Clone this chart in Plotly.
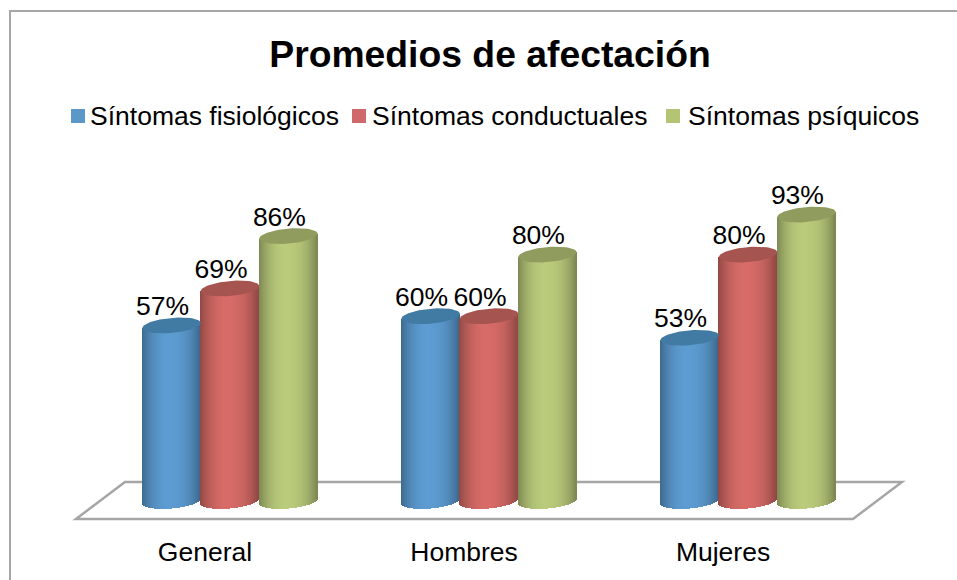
import numpy as np
import plotly.graph_objects as go

categories = ["General", "Hombres", "Mujeres"]
series_names = ["Síntomas fisiológicos", "Síntomas conductuales", "Síntomas psíquicos"]
fisiologicos = [57, 60, 53]
conductuales = [69, 60, 80]
psiquicos = [86, 80, 93]
series_values = [fisiologicos, conductuales, psiquicos]

base_colors = [(93, 157, 211), (216, 108, 104), (187, 204, 124)]
legend_colors = ["#5b97c8", "#d0696a", "#b3c474"]
top_colors = ["#417aa3", "#a5544f", "#8f9c5e"]
legend_swatch_px = [71, 352, 666]
legend_text_px = [90, 372, 688]

W, H = 957, 580
FONT = "Liberation Sans"
PX_X = 259.0        # pixels per category
PX_Y = 3.08         # pixels per percentage point
X0_PX = 205.0       # pixel of first category tick
ZERO_PX = 501.0     # pixel of value 0 (centre of cylinder foot)
AXIS_PX = 527.0     # pixel of x axis line
DEPTH = 25.0        # cylinders sit behind the tick positions
CYL_W = 58.4
R = CYL_W / 2
ELL_B = 7.5
ELL_K = 2.5

def shade(rgb, t):
    f = 1 - 0.30 * abs(t) ** 2.6
    f *= 1 - 0.05 * abs(t + 0.1)
    return "rgb(%d,%d,%d)" % tuple(int(c * f) for c in rgb)

fig = go.Figure()
u = (np.arange(int(CYL_W)) + 0.5) / int(CYL_W) * 2 - 1
for j, (name, values) in enumerate(zip(series_names, series_values)):
    xs, heights, bases, colors = [], [], [], []
    for i, v in enumerate(values):
        cx = i + (DEPTH + (j - 1) * CYL_W) / PX_X
        foot = -(ELL_B * np.sqrt(1 - u ** 2) - ELL_K * u) / PX_Y
        head = v + ELL_K * u / PX_Y
        xs.extend(cx + u * R / PX_X)
        bases.extend(foot)
        heights.extend(head - foot)
        colors.extend(shade(base_colors[j], t) for t in u)
    fig.add_trace(go.Bar(x=xs, y=heights, base=bases, width=1.4 / PX_X, name=name,
                         marker=dict(color=colors, line=dict(width=0)),
                         showlegend=False, hoverinfo="skip"))
th = np.linspace(0, 2 * np.pi, 80)
for j, values in enumerate(series_values):
    for i, v in enumerate(values):
        cx = i + (DEPTH + (j - 1) * CYL_W) / PX_X
        ex = cx + R * np.cos(th) / PX_X
        ey = v - (ELL_B * np.sin(th) - ELL_K * np.cos(th)) / PX_Y
        fig.add_trace(go.Scatter(x=ex, y=ey, mode="lines", fill="toself",
                                 fillcolor=top_colors[j], line=dict(width=0),
                                 showlegend=False, hoverinfo="skip"))
for j, values in enumerate(series_values):
    fig.add_trace(go.Scatter(
        x=[i + (DEPTH + (j - 1) * CYL_W - 9) / PX_X for i in range(3)],
        y=[v + 17 / PX_Y for v in values],
        mode="text", text=[f"{v}%" for v in values],
        textposition="middle center",
        textfont=dict(family=FONT, size=26.5, color="#000000"),
        showlegend=False, hoverinfo="skip"))

# paper coordinates refer to the plot area, which ends at the x axis
def px(x): return x / W
def py(y): return 1 - y / AXIS_PX
def path(pts):
    return "M " + " L ".join(f"{px(a):.4f} {py(b):.4f}" for a, b in pts) + " Z"

floor = [(76, 519), (853, 519), (902, 482), (125, 482)]
shapes = [
    dict(type="rect", xref="paper", yref="paper", x0=px(10), x1=px(975), y0=py(11), y1=py(600),
         line=dict(color="#a6a6a6", width=2), layer="below"),
    dict(type="path", xref="paper", yref="paper", path=path(floor),
         line=dict(color="#a6a6a6", width=2.5), fillcolor="#ffffff", layer="below"),
]
annotations = []
for j, name in enumerate(series_names):
    sx = legend_swatch_px[j]
    shapes.append(dict(type="rect", xref="paper", yref="paper", x0=px(sx), x1=px(sx + 14),
                       y0=py(109), y1=py(123), fillcolor=legend_colors[j], line=dict(width=0)))
    annotations.append(dict(xref="paper", yref="paper", x=px(legend_text_px[j]), y=py(116),
                            text=name, showarrow=False, xanchor="left", yanchor="middle",
                            borderpad=0, borderwidth=0,
                            font=dict(family=FONT, size=26.5, color="#000000")))

fig.update_layout(
    width=W, height=H, autosize=False,
    margin=dict(l=0, r=0, t=0, b=H - AXIS_PX, pad=0),
    paper_bgcolor="#ffffff", plot_bgcolor="rgba(0,0,0,0)",
    barmode="overlay", bargap=0, showlegend=False,
    title=dict(text="<b>Promedios de afectación</b>", x=490 / W, xanchor="center",
               y=1 - 54 / H, yanchor="middle",
               font=dict(family=FONT, size=37.3, color="#000000")),
    shapes=shapes, annotations=annotations,
    xaxis=dict(range=[-X0_PX / PX_X, (W - X0_PX) / PX_X], tickvals=[0, 1, 2], ticktext=categories,
               showgrid=False, zeroline=False, showline=False,
               ticks="outside", ticklen=1, tickcolor="rgba(0,0,0,0)",
               tickfont=dict(family=FONT, size=26.5, color="#000000")),
    yaxis=dict(range=[(ZERO_PX - AXIS_PX) / PX_Y, ZERO_PX / PX_Y], visible=False, fixedrange=True),
)
fig.write_html("out.html", config={"displayModeBar": False},
               post_script="document.body.style.margin='0';")
